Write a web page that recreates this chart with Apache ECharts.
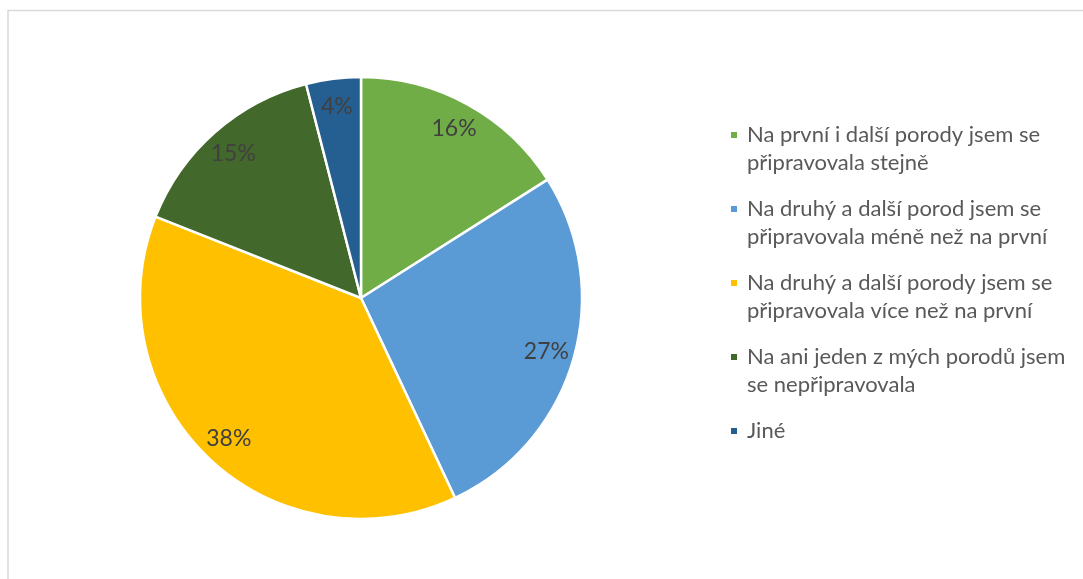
<!DOCTYPE html>
<html>
<head>
<meta charset="utf-8">
<script src="https://cdn.jsdelivr.net/npm/echarts@6/dist/echarts.min.js"></script>
<style>
  html, body { margin: 0; padding: 0; background: #fff; }
  #chart { width: 1083px; height: 579px; }
</style>
</head>
<body>
<div id="chart"></div>
<script>
// Odpovědi na otázku o přípravě na další porody (podíl v %)
const categories = [
  'Na první i další porody jsem se\npřipravovala stejně',
  'Na druhý a další porod jsem se\npřipravovala méně než na první',
  'Na druhý a další porody jsem se\npřipravovala více než na první',
  'Na ani jeden z mých porodů jsem\nse nepřipravovala',
  'Jiné'
];
const values = [16, 27, 38, 15, 4];
const colors = ['#70AD47', '#5B9BD5', '#FFC000', '#43682B', '#255E91'];

const FONT = 'Lato, "Open Sans", sans-serif';
const R = 221;

const pieData = categories.map((name, i) => ({
  name: name,
  value: values[i],
  itemStyle: { color: colors[i] }
}));

// Legend text gets an empty line above it (and below single-line names),
// so the square marker sits next to the first line of each entry.
function legendText(name) {
  return name.indexOf('\n') >= 0 ? '\n' + name : '\n' + name + '\n';
}

const chart = echarts.init(document.getElementById('chart'), null, { renderer: 'canvas' });

chart.setOption({
  animation: false,
  backgroundColor: '#ffffff',
  graphic: [{
    type: 'rect',
    shape: { x: 8, y: 10.5, width: 1100, height: 600 },
    style: { fill: 'none', stroke: '#d9d9d9', lineWidth: 1.5 },
    silent: true
  }],
  legend: {
    orient: 'vertical',
    left: 729,
    top: 93,
    padding: 0,
    itemGap: -10,
    itemWidth: 8,
    itemHeight: 8,
    icon: 'rect',
    data: categories,
    formatter: legendText,
    textStyle: {
      fontFamily: FONT,
      fontSize: 22,
      lineHeight: 28,
      color: '#595959',
      padding: [0, 0, 0, 4]
    }
  },
  series: [
    {
      type: 'pie',
      center: [361, 298],
      radius: [0, R],
      startAngle: 90,
      clockwise: true,
      avoidLabelOverlap: false,
      label: { show: false },
      labelLine: { show: false },
      emphasis: { disabled: true },
      itemStyle: { borderColor: '#ffffff', borderWidth: 2.5 },
      data: pieData
    },
    {
      // transparent ring used only to place the percentage labels
      type: 'pie',
      center: [361, 298],
      radius: [R * 0.72, R],
      startAngle: 90,
      clockwise: true,
      silent: true,
      avoidLabelOverlap: false,
      legendHoverLink: false,
      itemStyle: { color: 'rgba(0,0,0,0)' },
      label: {
        show: true,
        position: 'inside',
        formatter: p => p.value + '%',
        fontFamily: FONT,
        fontSize: 23,
        color: '#404040'
      },
      labelLine: { show: false },
      emphasis: { disabled: true },
      data: categories.map((name, i) => ({ name: name, value: values[i] }))
    }
  ]
});
</script>
</body>
</html>
